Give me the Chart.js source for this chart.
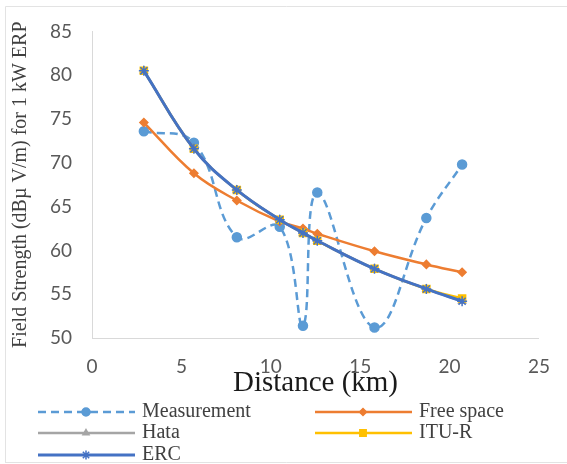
<!DOCTYPE html>
<html>
<head>
<meta charset="utf-8">
<script src="https://cdn.jsdelivr.net/npm/chart.js@4"></script>
<style>
  html, body { margin: 0; padding: 0; background: #fff; }
  #wrap { width: 567px; height: 464px; position: relative; }
</style>
</head>
<body>
<div id="wrap"><canvas id="fieldChart"></canvas></div>
<script>
// distance (km) of each measurement point
const distances = [2.9, 5.7, 8.1, 10.5, 11.8, 12.6, 15.8, 18.7, 20.7];

// field strength (dBuV/m) for each series
const measurement = [73.6, 72.3, 61.5, 62.7, 51.4, 66.6, 51.2, 63.7, 69.8];
const freeSpace   = [74.6, 68.8, 65.7, 63.3, 62.5, 61.9, 59.9, 58.4, 57.5];
const hata        = [80.5, 71.6, 66.9, 63.5, 62.0, 61.1, 57.9, 55.6, 54.2];
const ituR        = [80.5, 71.6, 66.9, 63.5, 62.0, 61.1, 57.9, 55.6, 54.5];
const erc         = [80.5, 71.6, 66.9, 63.5, 62.0, 61.1, 57.9, 55.6, 54.2];

const xTicks = [0, 5, 10, 15, 20, 25];
const yTicks = [50, 55, 60, 65, 70, 75, 80, 85];

const serif = '"Liberation Serif", "Times New Roman", serif';
const sans = 'Lato, "Open Sans", sans-serif';

function toPoints(ys) {
    return distances.map((x, i) => ({ x: x, y: ys[i] }));
}

// later series sit on top, as in the spreadsheet original
const seriesDefs = [
    { label: 'Measurement', data: measurement, color: '#5B9BD5', style: 'circle', radius: 4.5, dash: [8, 5], width: 2.5 },
    { label: 'Free space', data: freeSpace, color: '#ED7D31', style: 'rectRot', radius: 4, dash: [], width: 2.5 },
    { label: 'Hata', data: hata, color: '#A5A5A5', style: 'triangle', radius: 4, dash: [], width: 2.5 },
    { label: 'ITU-R', data: ituR, color: '#FFC000', style: 'rect', radius: 5, dash: [], width: 2.5 },
    { label: 'ERC', data: erc, color: '#4472C4', style: 'star', radius: 5, dash: [], width: 3 }
];

// legend drawn on the canvas in two columns like the original
const legendPlugin = {
    id: 'twoColLegend',
    afterDraw(chart) {
        const ctx = chart.ctx;
        const cols = [38, 315];
        const rows = [412, 433, 455];
        ctx.save();
        // light frame around the figure
        ctx.strokeStyle = '#e3e3e3';
        ctx.lineWidth = 1;
        ctx.beginPath();
        ctx.moveTo(5.5, 463);
        ctx.lineTo(5.5, 6.5);
        ctx.lineTo(567, 6.5);
        ctx.moveTo(5.5, 462.5);
        ctx.lineTo(567, 462.5);
        ctx.stroke();

        seriesDefs.forEach((s, i) => {
            const x = cols[i % 2];
            const y = rows[Math.floor(i / 2)];
            ctx.strokeStyle = s.color;
            ctx.fillStyle = s.color;
            ctx.lineWidth = s.width;
            ctx.setLineDash(s.dash);
            ctx.beginPath();
            ctx.moveTo(x, y);
            ctx.lineTo(x + 97, y);
            ctx.stroke();
            ctx.setLineDash([]);
            ctx.lineWidth = 1.5;
            Chart.helpers.drawPoint(ctx, {
                pointStyle: s.style,
                radius: s.radius - 0.5,
                borderWidth: 1.5,
                rotation: 0
            }, x + 48, y);
            ctx.fillStyle = '#404040';
            ctx.font = '20px ' + serif;
            ctx.textBaseline = 'middle';
            ctx.textAlign = 'left';
            ctx.fillText(s.label, x + 104, y);
        });
        ctx.restore();
    }
};

const ctx = document.getElementById('fieldChart').getContext('2d');
new Chart(ctx, {
    type: 'scatter',
    data: {
        datasets: seriesDefs.map((s, i) => ({
            label: s.label,
            data: toPoints(s.data),
            order: seriesDefs.length - i,
            showLine: true,
            tension: 0.4,
            borderColor: s.color,
            backgroundColor: s.color,
            borderWidth: s.width,
            borderDash: s.dash,
            pointStyle: s.style,
            pointRadius: s.radius,
            pointBorderWidth: 1.5,
            pointBorderColor: s.color,
            pointBackgroundColor: s.color
        }))
    },
    options: {
        responsive: true,
        maintainAspectRatio: false,
        animation: false,
        layout: { padding: { left: 5, right: 17, top: 23, bottom: 63 } },
        plugins: {
            legend: { display: false },
            tooltip: { enabled: false }
        },
        scales: {
            x: {
                type: 'linear',
                min: 0,
                max: 25,
                afterBuildTicks: scale => { scale.ticks = xTicks.map(v => ({ value: v })); },
                afterFit: scale => { scale.height = 63; },
                grid: { display: false, drawTicks: false },
                border: { display: true, color: '#d9d9d9', width: 1 },
                ticks: { color: '#595959', font: { family: sans, size: 19 }, padding: 17, maxRotation: 0 },
                title: { display: true, text: 'Distance (km)', color: '#1a1a1a', font: { family: serif, size: 29 }, padding: { top: 0, bottom: 0 } }
            },
            y: {
                min: 50,
                max: 85,
                afterBuildTicks: scale => { scale.ticks = yTicks.map(v => ({ value: v })); },
                afterFit: scale => { scale.width = 87; },
                grid: { display: false, drawTicks: false },
                border: { display: true, color: '#d9d9d9', width: 1 },
                ticks: { color: '#595959', font: { family: sans, size: 19 }, padding: 20 },
                title: { display: true, text: 'Field Strength (dBµ V/m) for 1 kW ERP', color: '#404040', font: { family: serif, size: 20 }, padding: { top: 4, bottom: 0 } }
            }
        }
    },
    plugins: [legendPlugin]
});
</script>
</body>
</html>
